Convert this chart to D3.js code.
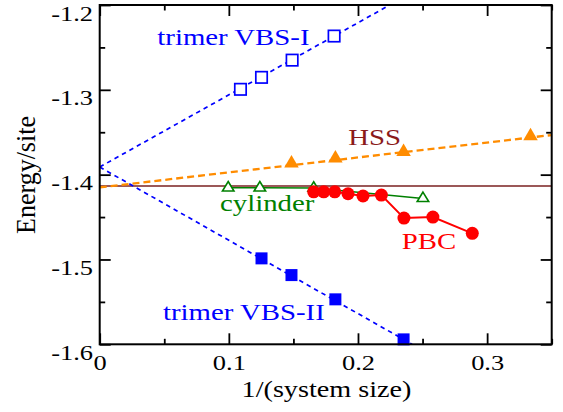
<!DOCTYPE html>
<html><head><meta charset="utf-8">
<script src="https://cdn.jsdelivr.net/npm/d3@7"></script>
<style>body{margin:0;background:#fff}svg{display:block}text{font-family:"Liberation Serif","Times New Roman",serif}</style>
</head><body>
<script>
// ---- data ----
const xMajorTicks = [0, 0.1, 0.2, 0.3];
const xMinorTicks = [0.05, 0.15, 0.25, 0.35];
const yMajorTicks = [-1.6, -1.5, -1.4, -1.3, -1.2];
const yMinorTicks = [-1.55, -1.45, -1.35, -1.25];
const xTickLabels = ["0", "0.1", "0.2", "0.3"];
const yTickLabels = ["-1.6", "-1.5", "-1.4", "-1.3", "-1.2"];

const vbs1X = [0.109, 0.1253, 0.149, 0.1815];
const vbs1Y = [-1.2994, -1.2853, -1.265, -1.2366];
const vbs2X = [0.1253, 0.1485, 0.1825, 0.2353];
const vbs2Y = [-1.4987, -1.5184, -1.547, -1.5942];
const hssX = [0.1485, 0.1825, 0.2353, 0.3336];
const hssY = [-1.3867, -1.3808, -1.373, -1.3545];
const cylX = [0.0995, 0.124, 0.1657, 0.2503];
const cylY = [-1.4155, -1.4155, -1.4158, -1.428];
const pbcX = [0.1657, 0.1735, 0.182, 0.1923, 0.2039, 0.2181, 0.2356, 0.258, 0.2885];
const pbcY = [-1.4202, -1.4202, -1.4202, -1.4225, -1.4252, -1.4241, -1.4512, -1.45, -1.4692];

// extrapolation lines (end points)
const vbs1FitX = [0, 0.2246], vbs1FitY = [-1.391, -1.2];
const vbs2FitX = [0, 0.2419], vbs2FitY = [-1.391, -1.6];
const hssFitX = [0, 0.35], hssFitY = [-1.415, -1.3533];
const refLineX = [0, 0.35], refLineY = [-1.4134, -1.4134];

const W = 563, H = 412;
const svg = d3.select("body").append("svg").attr("width", W).attr("height", H);
const x = d3.scaleLinear().domain([0, 0.35]).range([99.7, 551.7]);
const y = d3.scaleLinear().domain([-1.6, -1.2]).range([344.3, 5]);
const SX = 1.2;

const zip = (a, b) => a.map((v, i) => [v, b[i]]);
const line = d3.line().x(d => x(d[0])).y(d => y(d[1]));

svg.append("clipPath").attr("id", "clip").append("rect")
  .attr("x", x(0)).attr("y", y(-1.2)).attr("width", x(0.35) - x(0)).attr("height", y(-1.6) - y(-1.2));
const plot = svg.append("g").attr("clip-path", "url(#clip)");

// reference horizontal line
plot.append("path").attr("d", line(zip(refLineX, refLineY)))
  .attr("stroke", "#7a2020").attr("stroke-width", 1.3).attr("fill", "none");
// fit lines
plot.append("path").attr("d", line(zip(hssFitX, hssFitY)))
  .attr("stroke", "#ff8c00").attr("stroke-width", 2.3).attr("stroke-dasharray", "7,4").attr("fill", "none");
plot.append("path").attr("d", line(zip(vbs1FitX, vbs1FitY)))
  .attr("stroke", "#0000ff").attr("stroke-width", 1.7).attr("stroke-dasharray", "4.5,4").attr("fill", "none");
plot.append("path").attr("d", line(zip(vbs2FitX, vbs2FitY)))
  .attr("stroke", "#0000ff").attr("stroke-width", 1.7).attr("stroke-dasharray", "4.5,4").attr("fill", "none");

const tri = (w, h) => `M0,${-2*h/3}L${w/2},${h/3}L${-w/2},${h/3}Z`;

// cylinder
svg.append("path").attr("d", line(zip(cylX, cylY)))
  .attr("stroke", "#008000").attr("stroke-width", 1.5).attr("fill", "none");
svg.selectAll(".cyl").data(zip(cylX, cylY)).join("path")
  .attr("transform", d => `translate(${x(d[0])},${y(d[1])})`)
  .attr("d", tri(11.5, 9.5)).attr("fill", "#fff").attr("stroke", "#008000").attr("stroke-width", 1.6);

// PBC
svg.append("path").attr("d", line(zip(pbcX, pbcY)))
  .attr("stroke", "#ff0000").attr("stroke-width", 2).attr("fill", "none");
svg.selectAll(".pbc").data(zip(pbcX, pbcY)).join("circle")
  .attr("cx", d => x(d[0])).attr("cy", d => y(d[1])).attr("r", 6.5).attr("fill", "#ff0000");

// HSS triangles
svg.selectAll(".hss").data(zip(hssX, hssY)).join("path")
  .attr("transform", d => `translate(${x(d[0])},${y(d[1])})`)
  .attr("d", tri(14.5, 12.5)).attr("fill", "#ff8c00");

// VBS-I open squares
svg.selectAll(".v1").data(zip(vbs1X, vbs1Y)).join("rect")
  .attr("x", d => x(d[0]) - 5.7).attr("y", d => y(d[1]) - 5.7).attr("width", 11.4).attr("height", 11.4)
  .attr("fill", "#fff").attr("stroke", "#0000ff").attr("stroke-width", 1.7);
// VBS-II filled squares
svg.selectAll(".v2").data(zip(vbs2X, vbs2Y)).join("rect")
  .attr("x", d => x(d[0]) - 6).attr("y", d => y(d[1]) - 6).attr("width", 12).attr("height", 12)
  .attr("fill", "#0000ff");

// ---- axes ----
const axG = svg.append("g");
function ax(gen, tr) {
  const g = axG.append("g").attr("transform", tr).call(gen);
  g.select(".domain").remove();
  g.selectAll("line").attr("stroke", "#000").attr("stroke-width", 1.8);
  return g;
}
ax(d3.axisBottom(x).tickValues(xMinorTicks).tickSize(-5.5).tickFormat(""), `translate(0,${y(-1.6)})`);
ax(d3.axisTop(x).tickValues(xMinorTicks).tickSize(-5.5).tickFormat(""), `translate(0,${y(-1.2)})`);
ax(d3.axisTop(x).tickValues(xMajorTicks).tickSize(-11).tickFormat(""), `translate(0,${y(-1.2)})`);
ax(d3.axisLeft(y).tickValues(yMinorTicks).tickSize(-5.5).tickFormat(""), `translate(${x(0)},0)`);
ax(d3.axisRight(y).tickValues(yMinorTicks).tickSize(-5.5).tickFormat(""), `translate(${x(0.35)},0)`);
ax(d3.axisRight(y).tickValues(yMajorTicks).tickSize(-11).tickFormat(""), `translate(${x(0.35)},0)`);

const bx = ax(d3.axisBottom(x).tickValues(xMajorTicks).tickSize(-11).tickFormat((d, i) => xTickLabels[i]), `translate(0,${y(-1.6)})`);
bx.selectAll("text").attr("y", 0).attr("dy", 0).attr("fill", "#000")
  .attr("font-size", 22).attr("font-family", "Liberation Serif")
  .attr("transform", `translate(0,26) scale(${SX},1)`);
const ly = ax(d3.axisLeft(y).tickValues(yMajorTicks).tickSize(-11).tickFormat((d, i) => yTickLabels[i]), `translate(${x(0)},0)`);
ly.selectAll("text").attr("x", 0).attr("dy", 0).attr("fill", "#000")
  .attr("font-size", 22).attr("font-family", "Liberation Serif").attr("text-anchor", "end")
  .attr("transform", `translate(${93 - x(0)},15) scale(${SX},1)`);

// frame
svg.append("rect").attr("x", x(0)).attr("y", y(-1.2)).attr("width", x(0.35) - x(0)).attr("height", y(-1.6) - y(-1.2))
  .attr("fill", "none").attr("stroke", "#000").attr("stroke-width", 2);

// ---- texts ----
function label(txt, px, py, color, size, anchor) {
  svg.append("text").attr("transform", `translate(${px},${py}) scale(${SX},1)`)
    .attr("text-anchor", anchor || "start").attr("font-size", size).attr("fill", color).text(txt);
}
label("trimer VBS-I", 157.3, 45, "#0000ff", 24);
label("HSS", 348.3, 145, "#8b1a1a", 24);
label("cylinder", 220, 211, "#008000", 24);
label("PBC", 401.7, 248.5, "#ff0000", 24);
label("trimer VBS-II", 163, 320, "#0000ff", 24);
label("1/(system size)", 326.5, 397, "#000", 23.5, "middle");

svg.append("text").attr("transform", `translate(35,175) scale(1.05,1) rotate(-90)`)
  .attr("text-anchor", "middle").attr("font-size", 26).attr("fill", "#000").text("Energy/site");
</script>
</body></html>
